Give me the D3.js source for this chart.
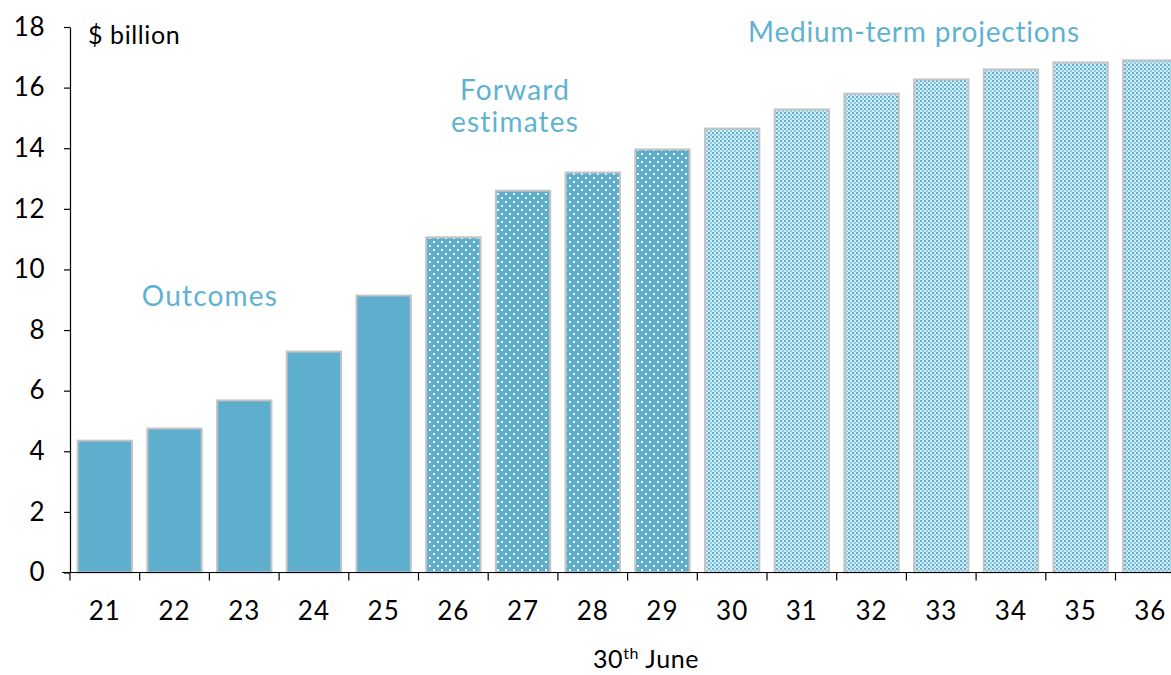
<!DOCTYPE html>
<html>
<head>
<meta charset="utf-8">
<script src="https://cdn.jsdelivr.net/npm/d3@7"></script>
<style>
  html, body { margin: 0; padding: 0; background: #fff; }
  svg { display: block; font-family: "Lato", "DejaVu Sans", sans-serif; }
</style>
</head>
<body>
<svg id="chart" width="1171" height="675"></svg>
<script>
// Years ending 30 June
const years = ["21", "22", "23", "24", "25", "26", "27", "28", "29", "30", "31", "32", "33", "34", "35", "36"];
// $ billion
const values = [4.35, 4.75, 5.68, 7.29, 9.14, 11.06, 12.6, 13.2, 13.96, 14.65, 15.28, 15.8, 16.27, 16.6, 16.83, 16.9];
// Period each year belongs to
const periods = ["outcome", "outcome", "outcome", "outcome", "outcome",
  "forward", "forward", "forward", "forward",
  "medium", "medium", "medium", "medium", "medium", "medium", "medium"];
const yTicks = [0, 2, 4, 6, 8, 10, 12, 14, 16, 18];

const blue = "#5eafcd";
const labelBlue = "#5fb2d1";

const svg = d3.select("#chart");
const margin = { left: 70, top: 27, bottom: 103 };
const height = 675;
const bandW = 69.7;

const x = d3.scaleBand()
  .domain(years)
  .range([margin.left, margin.left + bandW * years.length])
  .paddingInner(0.22)
  .paddingOuter(0.11);

const y = d3.scaleLinear()
  .domain([0, 18])
  .range([height - margin.bottom + 0.5, margin.top]);

// Fill patterns
const defs = svg.append("defs");

const dots = defs.append("pattern")
  .attr("id", "dots").attr("patternUnits", "userSpaceOnUse")
  .attr("width", 8).attr("height", 8);
dots.append("rect").attr("width", 8).attr("height", 8).attr("fill", blue);
dots.append("rect").attr("x", 1).attr("y", 1).attr("width", 2).attr("height", 2).attr("fill", "#ffffff");
dots.append("rect").attr("x", 5).attr("y", 5).attr("width", 2).attr("height", 2).attr("fill", "#f2f9fc");

const checks = defs.append("pattern")
  .attr("id", "checks").attr("patternUnits", "userSpaceOnUse")
  .attr("width", 4).attr("height", 4);
checks.append("rect").attr("width", 4).attr("height", 4).attr("fill", "#d2ebf5");
checks.append("rect").attr("x", 0).attr("y", 0).attr("width", 2).attr("height", 2).attr("fill", "#5cb0d0");
checks.append("rect").attr("x", 2).attr("y", 2).attr("width", 2).attr("height", 2).attr("fill", "#8ccae2");

const fillFor = p => p === "outcome" ? blue : (p === "forward" ? "url(#dots)" : "url(#checks)");

// Bars
svg.append("g").selectAll("rect")
  .data(years)
  .join("rect")
  .attr("x", (d) => x(d))
  .attr("y", (d, i) => y(values[i]))
  .attr("width", x.bandwidth())
  .attr("height", (d, i) => y(0) - y(values[i]))
  .attr("fill", (d, i) => fillFor(periods[i]))
  .attr("stroke", "#c4c4c4")
  .attr("stroke-width", 2);

const font = "Lato, 'DejaVu Sans', sans-serif";

// Y axis
const yAxis = svg.append("g")
  .attr("transform", `translate(${margin.left},0)`)
  .call(d3.axisLeft(y).tickValues(yTicks).tickSize(6).tickPadding(19).tickSizeOuter(0));
yAxis.select(".domain").attr("stroke", "#000").attr("stroke-width", 1.2);
yAxis.selectAll(".tick line").attr("stroke", "#000").attr("stroke-width", 1.2);
yAxis.selectAll("text").attr("font-size", 26).attr("fill", "#000")
  .attr("letter-spacing", 0.5)
  .attr("font-family", font);

// X axis: ticks at category boundaries
const xAxisG = svg.append("g").attr("transform", `translate(0,${y(0)})`);
xAxisG.append("line")
  .attr("x1", margin.left - 8).attr("x2", 1171)
  .attr("stroke", "#000").attr("stroke-width", 1.2);
const step = x.step();
const boundaries = d3.range(years.length + 1).map(i => x.range()[0] + i * step);
xAxisG.selectAll(".bt").data(boundaries).join("line")
  .attr("class", "bt")
  .attr("x1", d => d).attr("x2", d => d)
  .attr("y1", 0).attr("y2", 8)
  .attr("stroke", "#000").attr("stroke-width", 1.2);
xAxisG.selectAll(".xl").data(years).join("text")
  .attr("class", "xl")
  .attr("x", d => x(d) + x.bandwidth() / 2)
  .attr("y", 47)
  .attr("text-anchor", "middle")
  .attr("font-size", 26)
  .attr("letter-spacing", 1)
  .attr("fill", "#000")
  .text(d => d);

// Axis titles
svg.append("text")
  .attr("x", 88).attr("y", 44)
  .attr("font-size", 25).attr("letter-spacing", 0.6).attr("fill", "#000")
  .text("$ billion");

const xt = svg.append("text")
  .attr("x", 646).attr("y", 668)
  .attr("text-anchor", "middle")
  .attr("font-size", 25).attr("letter-spacing", 0.6).attr("fill", "#000");
xt.append("tspan").text("30");
xt.append("tspan").attr("dy", -9).attr("font-size", 16).text("th");
xt.append("tspan").attr("dy", 9).text(" June");

// Period labels
const periodLabels = [
  { lines: ["Outcomes"], cx: 210, y0: 306 },
  { lines: ["Forward", "estimates"], cx: 515, y0: 100 },
  { lines: ["Medium-term projections"], cx: 914, y0: 42 }
];
periodLabels.forEach(l => {
  const t = svg.append("text")
    .attr("text-anchor", "middle")
    .attr("font-size", 28)
    .attr("letter-spacing", l.lines[0].length > 12 ? 0.8 : 1.2)
    .attr("fill", labelBlue);
  l.lines.forEach((s, i) => {
    t.append("tspan").attr("x", l.cx).attr("y", l.y0 + i * 32).text(s);
  });
});
</script>
</body>
</html>
